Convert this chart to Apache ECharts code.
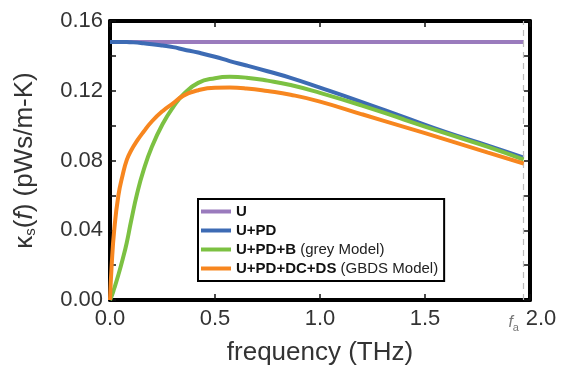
<!DOCTYPE html>
<html>
<head>
<meta charset="utf-8">
<script src="https://cdn.jsdelivr.net/npm/echarts@6/dist/echarts.min.js"></script>
<style>
  html, body { margin: 0; padding: 0; background: #fff; }
  #chart { width: 566px; height: 371px; }
</style>
</head>
<body>
<div id="chart"></div>
<script>
// frequency samples (THz), denser near 0 where curves rise fast
const freq = [0, 0.008, 0.02, 0.04, 0.06, 0.08, 0.1, 0.13, 0.16, 0.2, 0.25, 0.3, 0.35, 0.42, 0.5, 0.57, 0.65, 0.75, 0.86, 1.0, 1.2, 1.4, 1.6, 1.8, 1.97]
const kU = [0.148, 0.148, 0.148, 0.148, 0.148, 0.148, 0.148, 0.148, 0.148, 0.148, 0.148, 0.148, 0.148, 0.148, 0.148, 0.148, 0.148, 0.148, 0.148, 0.148, 0.148, 0.148, 0.148, 0.148, 0.148]
const kUPD = [0.148, 0.148, 0.148, 0.148, 0.1479, 0.1479, 0.1478, 0.1476, 0.1472, 0.1467, 0.1459, 0.1450, 0.1437, 0.1419, 0.1395, 0.137, 0.1345, 0.1312, 0.1274, 0.1218, 0.1135, 0.1048, 0.0962, 0.0885, 0.0816]
const kGrey = [0, 0.0022, 0.0066, 0.0145, 0.0232, 0.033, 0.045, 0.0615, 0.0745, 0.088, 0.1008, 0.1105, 0.118, 0.1245, 0.1272, 0.128, 0.1275, 0.1258, 0.1233, 0.1188, 0.1115, 0.1035, 0.0955, 0.0878, 0.0805]
const kGBDS = [0, 0.02, 0.04, 0.06, 0.0715, 0.0803, 0.0856, 0.0915, 0.0965, 0.1025, 0.1083, 0.1128, 0.1172, 0.1203, 0.1217, 0.1218, 0.1213, 0.1198, 0.1177, 0.1138, 0.1065, 0.0993, 0.092, 0.0845, 0.0783]
const fa = 1.965

const names = ['U', 'U+PD', 'U+PD+B', 'U+PD+DC+DS']
const notes = ['', '', '(grey Model)', '(GBDS Model)']
const colors = ['#9a7bbd', '#3d6bb4', '#7cc142', '#f7861f']
const values = [kU, kUPD, kGrey, kGBDS]

const font = 'Liberation Sans, Arial, Helvetica, sans-serif'
const myChart = echarts.init(document.getElementById('chart'))

const tickStyle = { show: true, inside: true, length: 6, lineStyle: { color: '#111', width: 1.5 } }
const spine = { show: true, onZero: false, lineStyle: { color: '#000', width: 4 } }

const series = names.map((n, k) => {
  const s = {
    name: n,
    type: 'line',
    smooth: 0.5,
    showSymbol: false,
    symbol: 'none',
    sampling: false,
    lineStyle: { color: colors[k], width: 4 },
    itemStyle: { color: colors[k] },
    data: freq.map((f, i) => [f, values[k][i]]),
    z: 3 + k
  }
  if (k === 0) {
    s.markLine = {
      silent: true,
      symbol: 'none',
      lineStyle: { color: '#bbb', type: [6, 5], width: 1.2 },
      label: {
        show: true,
        position: 'start',
        distance: 12,
        offset: [-10, 0],
        formatter: '{i|f}{s|a}',
        rich: {
          i: { fontStyle: 'italic', fontSize: 16, color: '#777', fontFamily: font },
          s: { fontSize: 11, color: '#777', fontFamily: font, verticalAlign: 'bottom', padding: [10, 0, 0, 0] }
        }
      },
      data: [{ xAxis: fa }]
    }
  }
  return s
})

const option = {
  backgroundColor: '#fff',
  animation: false,
  textStyle: { fontFamily: font },
  grid: { left: 110, right: 36, top: 21, bottom: 64 },
  legend: {
    orient: 'vertical',
    left: 198,
    top: 199,
    padding: [5, 6, 5, 3],
    itemGap: 4,
    itemWidth: 30,
    itemHeight: 4,
    icon: 'rect',
    borderColor: '#000',
    borderWidth: 2,
    data: names,
    formatter: function (name) {
      const i = names.indexOf(name)
      return notes[i] ? '{b|' + name + '} {n|' + notes[i] + '}' : '{b|' + name + '}'
    },
    textStyle: {
      fontSize: 15,
      fontFamily: font,
      rich: {
        b: { fontWeight: 'bold', fontSize: 15, color: '#111', fontFamily: font, lineHeight: 15 },
        n: { fontSize: 15, color: '#222', fontFamily: font, lineHeight: 15 }
      }
    }
  },
  xAxis: [
    {
      type: 'value',
      min: 0,
      max: 2,
      interval: 0.5,
      position: 'bottom',
      axisLine: spine,
      axisTick: tickStyle,
      splitLine: { show: false },
      axisLabel: {
        fontSize: 22,
        color: '#333',
        margin: 8,
        fontFamily: font,
        formatter: function (v) {
          return v === 2 ? '{r|2.0}' : v.toFixed(1)
        },
        rich: {
          r: { fontSize: 22, color: '#333', fontFamily: font, padding: [0, 0, 0, 22] }
        }
      },
      name: 'frequency (THz)',
      nameLocation: 'middle',
      nameGap: 40,
      nameTextStyle: { fontSize: 26, color: '#333', fontFamily: font }
    },
    {
      type: 'value',
      min: 0,
      max: 2,
      interval: 0.5,
      position: 'top',
      axisLine: spine,
      axisTick: tickStyle,
      axisLabel: { show: false },
      splitLine: { show: false }
    }
  ],
  yAxis: [
    {
      type: 'value',
      min: 0,
      max: 0.16,
      interval: 0.02,
      position: 'left',
      axisLine: spine,
      axisTick: tickStyle,
      splitLine: { show: false },
      axisLabel: {
        fontSize: 22,
        color: '#333',
        margin: 7,
        fontFamily: font,
        formatter: function (v) {
          return Math.round(v * 100) % 4 === 0 ? v.toFixed(2) : ''
        }
      },
      name: '{a|κ}{s|s}{a|(}{i|f}{a|) (pWs/m-K)}',
      nameLocation: 'middle',
      nameRotate: 90,
      nameGap: 72,
      nameTextStyle: {
        fontSize: 26,
        color: '#333',
        fontFamily: font,
        rich: {
          a: { fontSize: 26, color: '#333', fontFamily: font },
          i: { fontSize: 26, color: '#333', fontStyle: 'italic', fontFamily: font },
          s: { fontSize: 15, color: '#333', fontFamily: font, verticalAlign: 'bottom', padding: [12, 0, 0, 0] }
        }
      }
    },
    {
      type: 'value',
      min: 0,
      max: 0.16,
      interval: 0.02,
      position: 'right',
      axisLine: spine,
      axisTick: tickStyle,
      axisLabel: { show: false },
      splitLine: { show: false }
    }
  ],
  series: series
}

myChart.setOption(option)
window.addEventListener('resize', function () {
  myChart.resize()
})
</script>
</body>
</html>
